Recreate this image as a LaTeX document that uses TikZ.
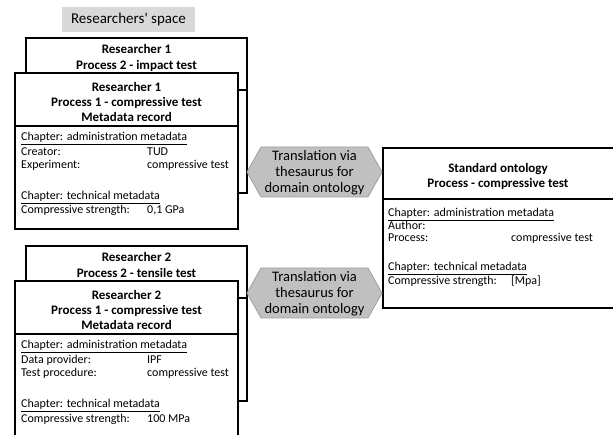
\documentclass[tikz,border=0pt]{standalone}
\usepackage{fontspec}
\setmainfont{Carlito}
\definecolor{hexfill}{HTML}{C0C0C0}
\definecolor{hexline}{HTML}{A0A0A0}
\definecolor{tagfill}{HTML}{D9D9D9}
\tikzset{
  box/.style={draw=black, line width=1.2pt, fill=white},
  sepline/.style={draw=black, line width=1.2pt},
  hdr/.style={font=\fontsize{13}{15}\selectfont\bfseries, inner sep=0pt, anchor=base},
  txt/.style={font=\fontsize{12}{14}\selectfont, inner sep=0pt, anchor=base west},
  hextxt/.style={font=\fontsize{14.5}{17}\selectfont, inner sep=0pt, anchor=base},
  hexa/.style={fill=hexfill, draw=hexline, line width=0.8pt},
}
\newcommand{\chap}[1]{\underline{#1}}
\begin{document}
\begin{tikzpicture}[x=1pt, y=-1pt]
  \useasboundingbox (0,0) rectangle (613,435);
  \clip (0,0) rectangle (613,435);

  % label of the left column
  \node[fill=tagfill, minimum width=133pt, minimum height=25pt, inner sep=0pt,
        font=\fontsize{15}{17}\selectfont] (space) at (128.5,19.5)
        {Researchers\textquotesingle{} space};

  % ---------- researcher 1 ----------
  \draw[box] (26,38) rectangle (247,193);
  \draw[sepline] (26,90) -- (247,90);
  \node[hdr] (r1b1) at (136.5,54) {Researcher 1};
  \node[hdr] (r1b2) at (136.5,70) {Process 2 - impact test};

  \draw[box] (15,73) rectangle (238,229);
  \draw[sepline] (15,126) -- (238,126);
  \node[hdr] (r1f1) at (126.5,91.5) {Researcher 1};
  \node[hdr] (r1f2) at (126.5,106.5) {Process 1 - compressive test};
  \node[hdr] (r1f3) at (126.5,121.5) {Metadata record};
  \node[txt] (r1c1) at (21,141) {\chap{Chapter: administration metadata}};
  \node[txt] (r1k1) at (21,155.5) {Creator:};
  \node[txt] (r1v1) at (147,155.5) {TUD};
  \node[txt] (r1k2) at (21,168.5) {Experiment:};
  \node[txt] (r1v2) at (147,168.5) {compressive test};
  \node[txt] (r1c2) at (21,199.5) {\chap{Chapter: technical metadata}};
  \node[txt] (r1k3) at (21,214) {Compressive strength:};
  \node[txt] (r1v3) at (147,214) {0,1 GPa};

  % ---------- researcher 2 ----------
  \begin{scope}[yshift=-208pt]
    \draw[box] (26,38) rectangle (247,193);
    \draw[sepline] (26,90) -- (247,90);
    \node[hdr] (r2b1) at (136.5,54) {Researcher 2};
    \node[hdr] (r2b2) at (136.5,70) {Process 2 - tensile test};

    \draw[box] (15,73) rectangle (238,240);
    \draw[sepline] (15,126) -- (238,126);
    \node[hdr] (r2f1) at (126.5,91.5) {Researcher 2};
    \node[hdr] (r2f2) at (126.5,106.5) {Process 1 - compressive test};
    \node[hdr] (r2f3) at (126.5,121.5) {Metadata record};
    \node[txt] (r2c1) at (21,141) {\chap{Chapter: administration metadata}};
    \node[txt] (r2k1) at (21,155.5) {Data provider:};
    \node[txt] (r2v1) at (147,155.5) {IPF};
    \node[txt] (r2k2) at (21,168.5) {Test procedure:};
    \node[txt] (r2v2) at (147,168.5) {compressive test};
    \node[txt] (r2c2) at (21,199.5) {\chap{Chapter: technical metadata}};
    \node[txt] (r2k3) at (21,214) {Compressive strength:};
    \node[txt] (r2v3) at (147,214) {100 MPa};
  \end{scope}

  % ---------- standard ontology ----------
  \draw[box] (383,148) rectangle (613.6,308);
  \draw[sepline] (383,199) -- (614,199);
  \node[hdr] (so1) at (498,173) {Standard ontology};
  \node[hdr] (so2) at (498,187.5) {Process - compressive test};
  \node[txt] (soc1) at (388,216.5) {\chap{Chapter: administration metadata}};
  \node[txt] (sok1) at (388,229.5) {Author:};
  \node[txt] (sok2) at (388,242) {Process:};
  \node[txt] (sov2) at (511,242) {compressive test};
  \node[txt] (soc2) at (388,271) {\chap{Chapter: technical metadata}};
  \node[txt] (sok3) at (388,284.5) {Compressive strength:};
  \node[txt] (sov3) at (511,284.5) {[Mpa]};

  % ---------- translation hexagons ----------
  \draw[hexa] (247,172) -- (261,147) -- (368,147) -- (382,172)
              -- (368,197) -- (261,197) -- cycle;
  \node[hextxt] (t1a) at (314.5,160.5) {Translation via};
  \node[hextxt] (t1b) at (314.5,176.5) {thesaurus for};
  \node[hextxt] (t1c) at (314.5,192.5) {domain ontology};

  \draw[hexa] (247,293) -- (261,268) -- (368,268) -- (382,293)
              -- (368,318) -- (261,318) -- cycle;
  \node[hextxt] (t2a) at (314.5,281.5) {Translation via};
  \node[hextxt] (t2b) at (314.5,297.5) {thesaurus for};
  \node[hextxt] (t2c) at (314.5,313.5) {domain ontology};
\end{tikzpicture}
\end{document}
